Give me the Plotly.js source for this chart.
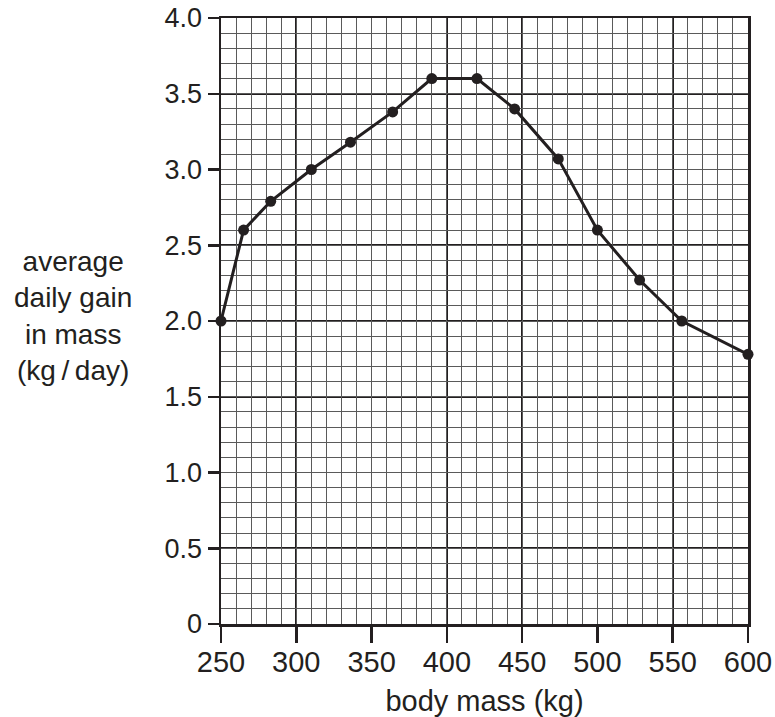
<!DOCTYPE html>
<html>
<head>
<meta charset="utf-8">
<script src="https://cdn.plot.ly/plotly-3.0.1.min.js"></script>
<style>
html,body{margin:0;padding:0;background:#fff;}
#chart{width:775px;height:717px;}
</style>
</head>
<body>
<div id="chart"></div>
<script>
const bodyMass = [250, 265, 283, 310, 336, 364, 390, 420, 445, 474, 500, 528, 556, 600];
const dailyGain = [2.0, 2.6, 2.79, 3.0, 3.18, 3.38, 3.6, 3.6, 3.4, 3.07, 2.6, 2.27, 2.0, 1.78];
const xTickVals = [250, 300, 350, 400, 450, 500, 550, 600];
const xTickText = ['250', '300', '350', '400', '450', '500', '550', '600'];
const yTickVals = [0, 0.5, 1.0, 1.5, 2.0, 2.5, 3.0, 3.5, 4.0];
const yTickText = ['0', '0.5', '1.0', '1.5', '2.0', '2.5', '3.0', '3.5', '4.0'];
const xTitle = 'body mass (kg)';
const yTitle = 'average<br>daily gain<br>in mass<br>(kg\u2009/\u2009day)';

const ink = '#231f20';
const font = {family: '"Liberation Sans", Arial, Helvetica, sans-serif', color: ink};

// invisible helper trace that carries the fine (minor) grid axes
const gridTrace = {
  x: bodyMass, y: dailyGain, xaxis: 'x2', yaxis: 'y2', type: 'scatter', mode: 'markers',
  marker: {opacity: 0}, hoverinfo: 'skip'
};
const trace = {
  x: bodyMass, y: dailyGain, type: 'scatter', mode: 'lines+markers',
  line: {color: ink, width: 3},
  marker: {color: ink, size: 11},
  cliponaxis: false, hoverinfo: 'skip'
};

const layout = {
  width: 775, height: 717,
  margin: {l: 220.5, r: 26.7, t: 18.3, b: 93.4},
  paper_bgcolor: '#fff', plot_bgcolor: '#fff',
  showlegend: false,
  font: Object.assign({size: 28}, font),
  xaxis2: {
    range: [250, 600], overlaying: 'x', fixedrange: true,
    tickmode: 'linear', tick0: 250, dtick: 10, showticklabels: false, ticks: '',
    showgrid: true, gridcolor: '#5a5a5a', gridwidth: 1, zeroline: false, showline: false
  },
  yaxis2: {
    range: [0, 4], overlaying: 'y', fixedrange: true,
    tickmode: 'linear', tick0: 0, dtick: 0.1, showticklabels: false, ticks: '',
    showgrid: true, gridcolor: '#5a5a5a', gridwidth: 1, zeroline: false, showline: false
  },
  xaxis: {
    range: [250, 600], fixedrange: true,
    tickmode: 'array', tickvals: xTickVals, ticktext: xTickText,
    tickfont: Object.assign({size: 29}, font),
    ticks: 'outside', ticklen: 16, tickwidth: 2.5, tickcolor: ink,
    ticklabelstandoff: -5,
    showline: true, linecolor: ink, linewidth: 2.5, mirror: true,
    showgrid: true, gridcolor: ink, gridwidth: 1.8,
    zeroline: false,
    title: {text: xTitle, font: Object.assign({size: 29}, font), standoff: 19}
  },
  yaxis: {
    range: [0, 4], fixedrange: true,
    tickmode: 'array', tickvals: yTickVals, ticktext: yTickText,
    tickfont: Object.assign({size: 27}, font),
    ticks: 'outside', ticklen: 11, tickwidth: 2.5, tickcolor: ink,
    showline: true, linecolor: ink, linewidth: 2.5, mirror: true,
    showgrid: true, gridcolor: ink, gridwidth: 1.8,
    zeroline: false
  },
  annotations: [{
    text: yTitle, xref: 'paper', yref: 'paper',
    x: (72 - 220.5) / (775 - 220.5 - 26.7), y: 0.508,
    xanchor: 'center', yanchor: 'middle', align: 'center',
    showarrow: false, font: Object.assign({size: 28}, font)
  }]
};

Plotly.newPlot('chart', [gridTrace, trace], layout, {staticPlot: true, displayModeBar: false});
</script>
</body>
</html>
